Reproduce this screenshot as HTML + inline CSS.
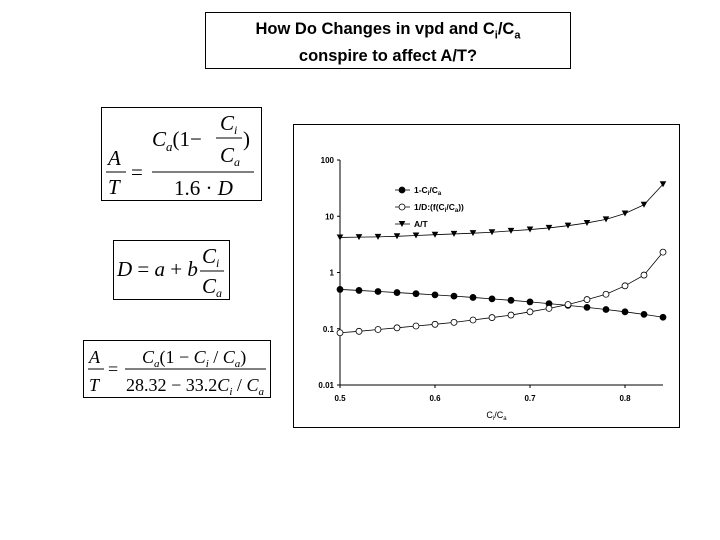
<!DOCTYPE html>
<html><head><meta charset="utf-8"><style>
body{margin:0;width:720px;height:540px;background:#fff;position:relative;overflow:hidden;font-family:"Liberation Sans",sans-serif}
.box{position:absolute;border:1.5px solid #000;box-sizing:border-box}
</style></head><body>
<div class="box" style="left:205px;top:12px;width:366px;height:57px;border-width:1px;text-align:center;font-size:16.5px;font-weight:bold;line-height:21px;padding-top:6px">
<span>How Do Changes in vpd and C<sub style="font-size:11px">i</sub>/C<sub style="font-size:11px">a</sub><br>conspire to affect A/T?</span></div>

<div class="box" style="left:101px;top:107px;width:161px;height:94px">
<svg width="158" height="91" style="position:absolute;left:0;top:0" font-family="Liberation Serif, serif" font-size="21">
<text x="6" y="57" font-style="italic">A</text><line x1="4" y1="64" x2="24" y2="64" stroke="#000"/><text x="6" y="86" font-style="italic">T</text>
<text x="29" y="71">=</text><line x1="50" y1="64" x2="152" y2="64" stroke="#000"/>
<text x="50" y="38"><tspan font-style="italic">C</tspan><tspan font-size="13" font-style="italic" dy="5">a</tspan><tspan dy="-5">(1−</tspan></text>
<text x="118" y="22" font-style="italic">C<tspan font-size="12" dy="4">i</tspan></text><line x1="114" y1="30" x2="140" y2="30" stroke="#000"/>
<text x="118" y="54" font-style="italic">C<tspan font-size="12" dy="4">a</tspan></text><text x="141" y="38">)</text>
<text x="72" y="87">1.6 · <tspan font-style="italic">D</tspan></text>
</svg></div>

<div class="box" style="left:113px;top:240px;width:117px;height:60px">
<svg width="114" height="57" style="position:absolute;left:0;top:0" font-family="Liberation Serif, serif" font-size="21">
<text x="3" y="35"><tspan font-style="italic">D</tspan> = <tspan font-style="italic">a</tspan> + <tspan font-style="italic">b</tspan></text>
<text x="88" y="22" font-style="italic">C<tspan font-size="12" dy="4">i</tspan></text><line x1="86" y1="30" x2="110" y2="30" stroke="#000"/>
<text x="88" y="52" font-style="italic">C<tspan font-size="12" dy="4">a</tspan></text>
</svg></div>

<div class="box" style="left:83px;top:340px;width:188px;height:58px">
<svg width="185" height="55" style="position:absolute;left:0;top:0" font-family="Liberation Serif, serif" font-size="18">
<text x="5" y="22" font-style="italic">A</text><line x1="4" y1="28" x2="20" y2="28" stroke="#000"/><text x="5" y="50" font-style="italic">T</text>
<text x="24" y="34">=</text><line x1="41" y1="28" x2="182" y2="28" stroke="#000"/>
<text x="58" y="22"><tspan font-style="italic">C</tspan><tspan font-size="11" font-style="italic" dy="4">a</tspan><tspan dy="-4">(1 − </tspan><tspan font-style="italic">C</tspan><tspan font-size="11" font-style="italic" dy="4">i</tspan><tspan dy="-4"> / </tspan><tspan font-style="italic">C</tspan><tspan font-size="11" font-style="italic" dy="4">a</tspan><tspan dy="-4">)</tspan></text>
<text x="42" y="50" textLength="138" lengthAdjust="spacingAndGlyphs">28.32 − 33.2<tspan font-style="italic">C</tspan><tspan font-size="11" font-style="italic" dy="4">i</tspan><tspan dy="-4"> / </tspan><tspan font-style="italic">C</tspan><tspan font-size="11" font-style="italic" dy="4">a</tspan></text>
</svg></div>

<div class="box" style="left:293px;top:124px;width:387px;height:304px"></div>
<svg id="chart" width="720" height="540" style="position:absolute;left:0;top:0" font-family="Liberation Sans, sans-serif"></svg>
<script>
const xValues=[0.50,0.52,0.54,0.56,0.58,0.60,0.62,0.64,0.66,0.68,0.70,0.72,0.74,0.76,0.78,0.80,0.82,0.84];
const oneMinusCiCa=[0.50,0.48,0.46,0.44,0.42,0.40,0.38,0.36,0.34,0.32,0.30,0.28,0.26,0.24,0.22,0.20,0.18,0.16];
const invD=[0.085,0.09,0.097,0.104,0.112,0.12,0.13,0.143,0.158,0.175,0.2,0.23,0.27,0.33,0.41,0.58,0.9,2.3];
const aOverT=[4.2,4.25,4.3,4.4,4.55,4.7,4.85,5.0,5.2,5.5,5.8,6.2,6.8,7.6,8.8,11.2,16,37];
const xTicks=[0.5,0.6,0.7,0.8];
const yTicks=[0.01,0.1,1,10,100];
const yTickLabels=["0.01","0.1","1","10","100"];
const svg=document.getElementById('chart');const NS='http://www.w3.org/2000/svg';
const X0=340,X1=663,Y0=385,Y1=160;
const xs=v=>X0+(v-0.5)/(0.84-0.5)*(X1-X0);
const ys=v=>Y0-(Math.log10(v)+2)/4*(Y0-Y1);
function mk(t,a,p){const e=document.createElementNS(NS,t);for(const k in a)e.setAttribute(k,a[k]);(p||svg).appendChild(e);return e;}
let e;
e=mk('path',{d:`M${X0},${Y1}V${Y0}H${X1}`,fill:'none',stroke:'#000','stroke-width':1});


xTicks.forEach(t=>{mk('line',{x1:xs(t),x2:xs(t),y1:Y0,y2:Y0+3,stroke:'#000'});
e=mk('text',{x:xs(t),y:Y0+16,'font-size':8,'font-weight':'bold','text-anchor':'middle'});e.textContent=String(t);

});
yTicks.forEach((t,i)=>{mk('line',{x1:X0-3,x2:X0,y1:ys(t),y2:ys(t),stroke:'#000'});
e=mk('text',{x:X0-6,y:ys(t)+3,'font-size':8,'font-weight':'bold','text-anchor':'end'});e.textContent=yTickLabels[i];

});
e=mk('text',{x:(X0+X1)/2-5,y:418,'font-size':9,'text-anchor':'middle'});e.innerHTML='C<tspan font-size="6" dy="2">i</tspan><tspan dy="-2">/C</tspan><tspan font-size="6" dy="2">a</tspan>';


function marker(type,x,y,g){if(type==='tri')return mk('path',{d:`M${x-3.3},${y-3}L${x+3.3},${y-3}L${x},${y+3}Z`,fill:'#000'},g);
return mk('circle',{cx:x,cy:y,r:3,fill:type==='filled'?'#000':'#fff',stroke:'#000','stroke-width':0.8},g);}
const series=[[oneMinusCiCa,'filled','series-1-minus-ci-ca'],[invD,'open','series-inv-d'],[aOverT,'tri','series-a-over-t']];
series.forEach(([vals,type,name])=>{const g=mk('g',{});


mk('polyline',{points:vals.map((v,i)=>xs(xValues[i])+','+ys(v)).join(' '),fill:'none',stroke:'#000','stroke-width':0.8},g);
vals.forEach((v,i)=>marker(type,xs(xValues[i]),ys(v),g));});
const legendLabels=['1-C<tspan font-size="6" dy="2">i</tspan><tspan dy="-2">/C</tspan><tspan font-size="6" dy="2">a</tspan>','1/D:(f(C<tspan font-size="6" dy="2">i</tspan><tspan dy="-2">/C</tspan><tspan font-size="6" dy="2">a</tspan><tspan dy="-2">))</tspan>','A/T'];
['filled','open','tri'].forEach((t,i)=>{const y=190+i*17;const g=mk('g',{});


mk('line',{x1:395,x2:410,y1:y,y2:y,stroke:'#000','stroke-width':0.8},g);marker(t,402,y,g);
const tx=mk('text',{x:414,y:y+3,'font-size':8.5,'font-weight':'bold'},g);tx.innerHTML=legendLabels[i];});
</script>
</body></html>
